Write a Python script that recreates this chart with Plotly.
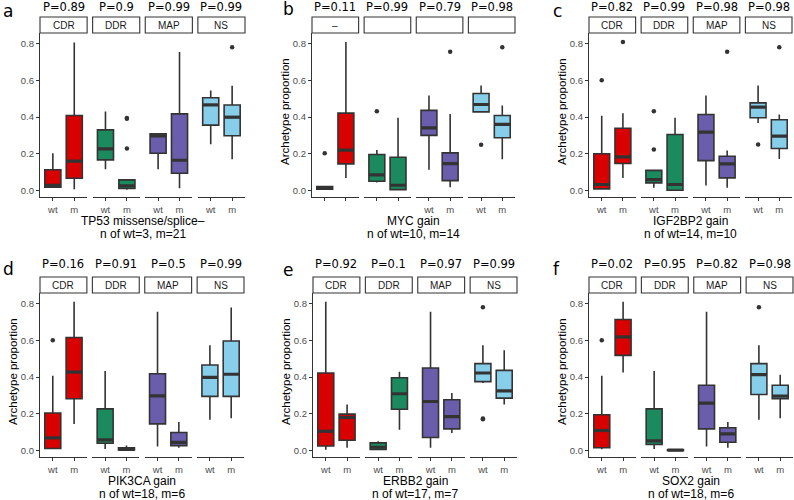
import plotly.graph_objects as go

W, H = 794, 500

# data
panels = ['a', 'b', 'c', 'd', 'e', 'f']
genes = ['TP53 missense/splice–', 'MYC gain', 'IGF2BP2 gain', 'PIK3CA gain', 'ERBB2 gain', 'SOX2 gain']
counts = ['n of wt=3, m=21', 'n of wt=10, m=14', 'n of wt=14, m=10',
          'n of wt=18, m=6', 'n of wt=17, m=7', 'n of wt=18, m=6']
archetypes = ['CDR', 'DDR', 'MAP', 'NS']
groups = ['wt', 'm']

pvals = [
    ['P=0.89', 'P=0.9', 'P=0.99', 'P=0.99'],
    ['P=0.11', 'P=0.99', 'P=0.79', 'P=0.98'],
    ['P=0.82', 'P=0.99', 'P=0.98', 'P=0.98'],
    ['P=0.16', 'P=0.91', 'P=0.5', 'P=0.99'],
    ['P=0.92', 'P=0.1', 'P=0.97', 'P=0.99'],
    ['P=0.02', 'P=0.95', 'P=0.82', 'P=0.98'],
]

# order in each list: CDR wt, CDR m, DDR wt, DDR m, MAP wt, MAP m, NS wt, NS m
a_lo = [0.015, 0.007, 0.116, 0.004, 0.116, 0.013, 0.252, 0.170]
a_q1 = [0.018, 0.067, 0.167, 0.011, 0.203, 0.094, 0.356, 0.298]
a_med = [0.028, 0.160, 0.227, 0.025, 0.298, 0.165, 0.466, 0.399]
a_q3 = [0.113, 0.408, 0.330, 0.058, 0.309, 0.417, 0.505, 0.465]
a_hi = [0.203, 0.806, 0.430, 0.058, 0.312, 0.753, 0.544, 0.570]
a_out = [[], [], [], [0.390, 0.395, 0.229], [], [], [], [0.780]]

b_lo = [0.005, 0.069, 0.044, 0.004, 0.113, 0.018, 0.425, 0.171]
b_q1 = [0.008, 0.145, 0.051, 0.005, 0.300, 0.054, 0.428, 0.287]
b_med = [0.015, 0.220, 0.085, 0.029, 0.341, 0.147, 0.468, 0.360]
b_q3 = [0.022, 0.421, 0.196, 0.181, 0.436, 0.205, 0.528, 0.408]
b_hi = [0.025, 0.808, 0.221, 0.396, 0.517, 0.416, 0.572, 0.463]
b_out = [[0.203], [], [0.432], [], [], [0.755], [0.249], [0.780]]

c_lo = [0.005, 0.069, 0.015, 0.000, 0.027, 0.015, 0.368, 0.172]
c_q1 = [0.009, 0.147, 0.042, 0.002, 0.163, 0.069, 0.396, 0.229]
c_med = [0.033, 0.183, 0.060, 0.033, 0.318, 0.145, 0.454, 0.296]
c_q3 = [0.200, 0.339, 0.110, 0.305, 0.414, 0.187, 0.477, 0.385]
c_hi = [0.407, 0.421, 0.110, 0.396, 0.517, 0.218, 0.572, 0.414]
c_out = [[0.600], [0.808], [0.223, 0.432], [], [], [0.755], [0.250], [0.780]]

d_lo = [0.007, 0.145, 0.009, 0.000, 0.022, 0.015, 0.167, 0.176]
d_q1 = [0.011, 0.282, 0.040, 0.004, 0.145, 0.027, 0.295, 0.295]
d_med = [0.069, 0.427, 0.058, 0.006, 0.298, 0.045, 0.398, 0.415]
d_q3 = [0.204, 0.615, 0.227, 0.015, 0.418, 0.098, 0.465, 0.596]
d_hi = [0.407, 0.809, 0.433, 0.027, 0.755, 0.155, 0.573, 0.778]
d_out = [[0.600], [], [], [], [], [], [], []]

e_lo = [0.005, 0.015, 0.004, 0.113, 0.015, 0.095, 0.367, 0.251]
e_q1 = [0.025, 0.056, 0.006, 0.225, 0.071, 0.118, 0.375, 0.285]
e_med = [0.105, 0.180, 0.018, 0.309, 0.267, 0.185, 0.422, 0.325]
e_q3 = [0.422, 0.198, 0.042, 0.396, 0.449, 0.276, 0.473, 0.436]
e_hi = [0.809, 0.251, 0.051, 0.429, 0.755, 0.313, 0.573, 0.545]
e_out = [[], [], [], [], [], [], [0.780, 0.171, 0.175], []]

f_lo = [0.007, 0.425, 0.009, 0.000, 0.022, 0.015, 0.167, 0.176]
f_q1 = [0.015, 0.518, 0.033, 0.001, 0.118, 0.045, 0.305, 0.282]
f_med = [0.109, 0.618, 0.053, 0.002, 0.258, 0.091, 0.413, 0.296]
f_q3 = [0.195, 0.713, 0.227, 0.004, 0.355, 0.124, 0.473, 0.355]
f_hi = [0.407, 0.809, 0.433, 0.006, 0.755, 0.155, 0.573, 0.413]
f_out = [[0.600], [], [], [], [], [], [0.780], []]

stats = [
    (a_lo, a_q1, a_med, a_q3, a_hi, a_out),
    (b_lo, b_q1, b_med, b_q3, b_hi, b_out),
    (c_lo, c_q1, c_med, c_q3, c_hi, c_out),
    (d_lo, d_q1, d_med, d_q3, d_hi, d_out),
    (e_lo, e_q1, e_med, e_q3, e_hi, e_out),
    (f_lo, f_q1, f_med, f_q3, f_hi, f_out),
]

# panel b has odd strip / tick labels in the original
strip_labels = [archetypes, ['–', '', '', ''], archetypes, archetypes, archetypes, archetypes]
tick_labels_b = [['', ''], ['', ''], groups, groups]

colors = {'CDR': '#D90000', 'DDR': '#1B8A5E', 'MAP': '#6A5DAB', 'NS': '#87CEEB'}
DARK = '#333333'
BOX_W = 0.75

# layout geometry (pixels)
panel_x = [(40, 245), (312, 515), (589, 792), (40, 244), (313, 517), (589, 793)]
row_strip = [(17, 33), (277, 293)]
row_plot = [(33, 197), (293, 457)]
GAP = 5.5
YRANGE = [-0.035, 0.857]

def px(x):
    return x / W

def py(y):
    return 1 - y / H

fig = go.Figure()
layout = {}
annotations = []
shapes = []

for p in range(6):
    r = p // 3
    x0, x1 = panel_x[p]
    fw = (x1 - x0 - 3 * GAP) / 4
    lo, q1, med, q3, hi, out = stats[p]
    for f in range(4):
        k = p * 4 + f + 1
        xa = 'x' if k == 1 else f'x{k}'
        ya = 'y' if k == 1 else f'y{k}'
        fx0 = x0 + f * (fw + GAP)
        fx1 = fx0 + fw
        ticktext = tick_labels_b[f] if p == 1 else groups
        layout['xaxis' if k == 1 else f'xaxis{k}'] = dict(
            domain=[px(fx0), px(fx1)], anchor=ya, range=[-0.6, 1.6],
            tickvals=[0, 1], ticktext=ticktext, showline=True, linecolor=DARK, linewidth=1.2,
            ticks='outside', ticklen=3, tickcolor=DARK, showgrid=False, zeroline=False,
            tickfont=dict(family='Liberation Sans', size=9.5, color='#4d4d4d'), fixedrange=True)
        first = f == 0
        layout['yaxis' if k == 1 else f'yaxis{k}'] = dict(
            domain=[py(row_plot[r][1]), py(row_plot[r][0])], anchor=xa, range=YRANGE,
            tickvals=[0, 0.2, 0.4, 0.6, 0.8], tickformat='.1f', showgrid=False, zeroline=False,
            showline=first, linecolor=DARK, linewidth=1.2, showticklabels=first,
            ticks='outside' if first else '', ticklen=3, tickcolor=DARK,
            tickfont=dict(family='Liberation Sans', size=9.5, color='#4d4d4d'), fixedrange=True)

        arch = archetypes[f]
        for g in range(2):
            i = f * 2 + g
            fig.add_trace(go.Box(
                x=[g], q1=[q1[i]], median=[med[i]], q3=[q3[i]],
                lowerfence=[lo[i]], upperfence=[hi[i]], width=BOX_W, whiskerwidth=0,
                fillcolor=colors[arch], line=dict(color=DARK, width=1.6),
                boxpoints=False, xaxis=xa, yaxis=ya, showlegend=False, hoverinfo='skip'))
            # thicker median bar like ggplot
            fig.add_trace(go.Scatter(
                x=[g - BOX_W / 2, g + BOX_W / 2], y=[med[i], med[i]], mode='lines',
                line=dict(color=DARK, width=3.2), xaxis=xa, yaxis=ya,
                showlegend=False, hoverinfo='skip'))
            if out[i]:
                fig.add_trace(go.Scatter(
                    x=[g] * len(out[i]), y=out[i], mode='markers',
                    marker=dict(color=DARK, size=4.5), xaxis=xa, yaxis=ya,
                    showlegend=False, hoverinfo='skip'))

        # strip box + label
        sy0, sy1 = row_strip[r]
        shapes.append(dict(type='rect', xref='paper', yref='paper',
                           x0=px(fx0), x1=px(fx1), y0=py(sy1), y1=py(sy0),
                           line=dict(color=DARK, width=1.1), fillcolor='white'))
        annotations.append(dict(xref='paper', yref='paper', x=px((fx0 + fx1) / 2),
                                y=py((sy0 + sy1) / 2), text=strip_labels[p][f], showarrow=False,
                                xanchor='center', yanchor='middle',
                                font=dict(family='Liberation Sans', size=10, color='#1a1a1a')))
        # p value
        annotations.append(dict(xref='paper', yref='paper', x=px((fx0 + fx1) / 2),
                                y=py(sy0 - 10 if r == 0 else sy0 - 13), text=pvals[p][f],
                                showarrow=False, xanchor='center', yanchor='middle',
                                font=dict(family='DejaVu Sans', size=11.5, color='black')))

    # x titles
    cx = (x0 + x1) / 2
    base = row_plot[r][1]
    annotations.append(dict(xref='paper', yref='paper', x=px(cx), y=py(base + 24),
                            text=genes[p], showarrow=False, xanchor='center', yanchor='middle',
                            font=dict(family='Liberation Sans', size=12, color='black')))
    annotations.append(dict(xref='paper', yref='paper', x=px(cx), y=py(base + 37),
                            text=counts[p], showarrow=False, xanchor='center', yanchor='middle',
                            font=dict(family='Liberation Sans', size=12, color='black')))
    # y title (not on panel a)
    if p != 0:
        annotations.append(dict(xref='paper', yref='paper', x=px(x0 - 27),
                                y=py((row_plot[r][0] + row_plot[r][1]) / 2 - 3),
                                text='Archetype proportion', showarrow=False, textangle=-90,
                                xanchor='center', yanchor='middle',
                                font=dict(family='Liberation Sans', size=11.5, color='black')))

# panel letters
letter_pos = [(1, 11), (281, 9), (551, 11), (1, 269), (281, 270), (551, 269)]
for p in range(6):
    lx, ly = letter_pos[p]
    annotations.append(dict(xref='paper', yref='paper', x=px(lx), y=py(ly), text=panels[p],
                            showarrow=False, xanchor='left', yanchor='middle',
                            font=dict(family='DejaVu Sans', size=17, color='black')))

fig.update_layout(
    width=W, height=H, margin=dict(l=0, r=0, t=0, b=0),
    plot_bgcolor='white', paper_bgcolor='white',
    annotations=annotations, shapes=shapes, showlegend=False, **layout)

# page body has an 8px default margin; drop it so the figure fills the window
fig.write_html("out.html", config={'displayModeBar': False},
               post_script="document.body.style.margin='0';document.body.style.overflow='hidden';")
